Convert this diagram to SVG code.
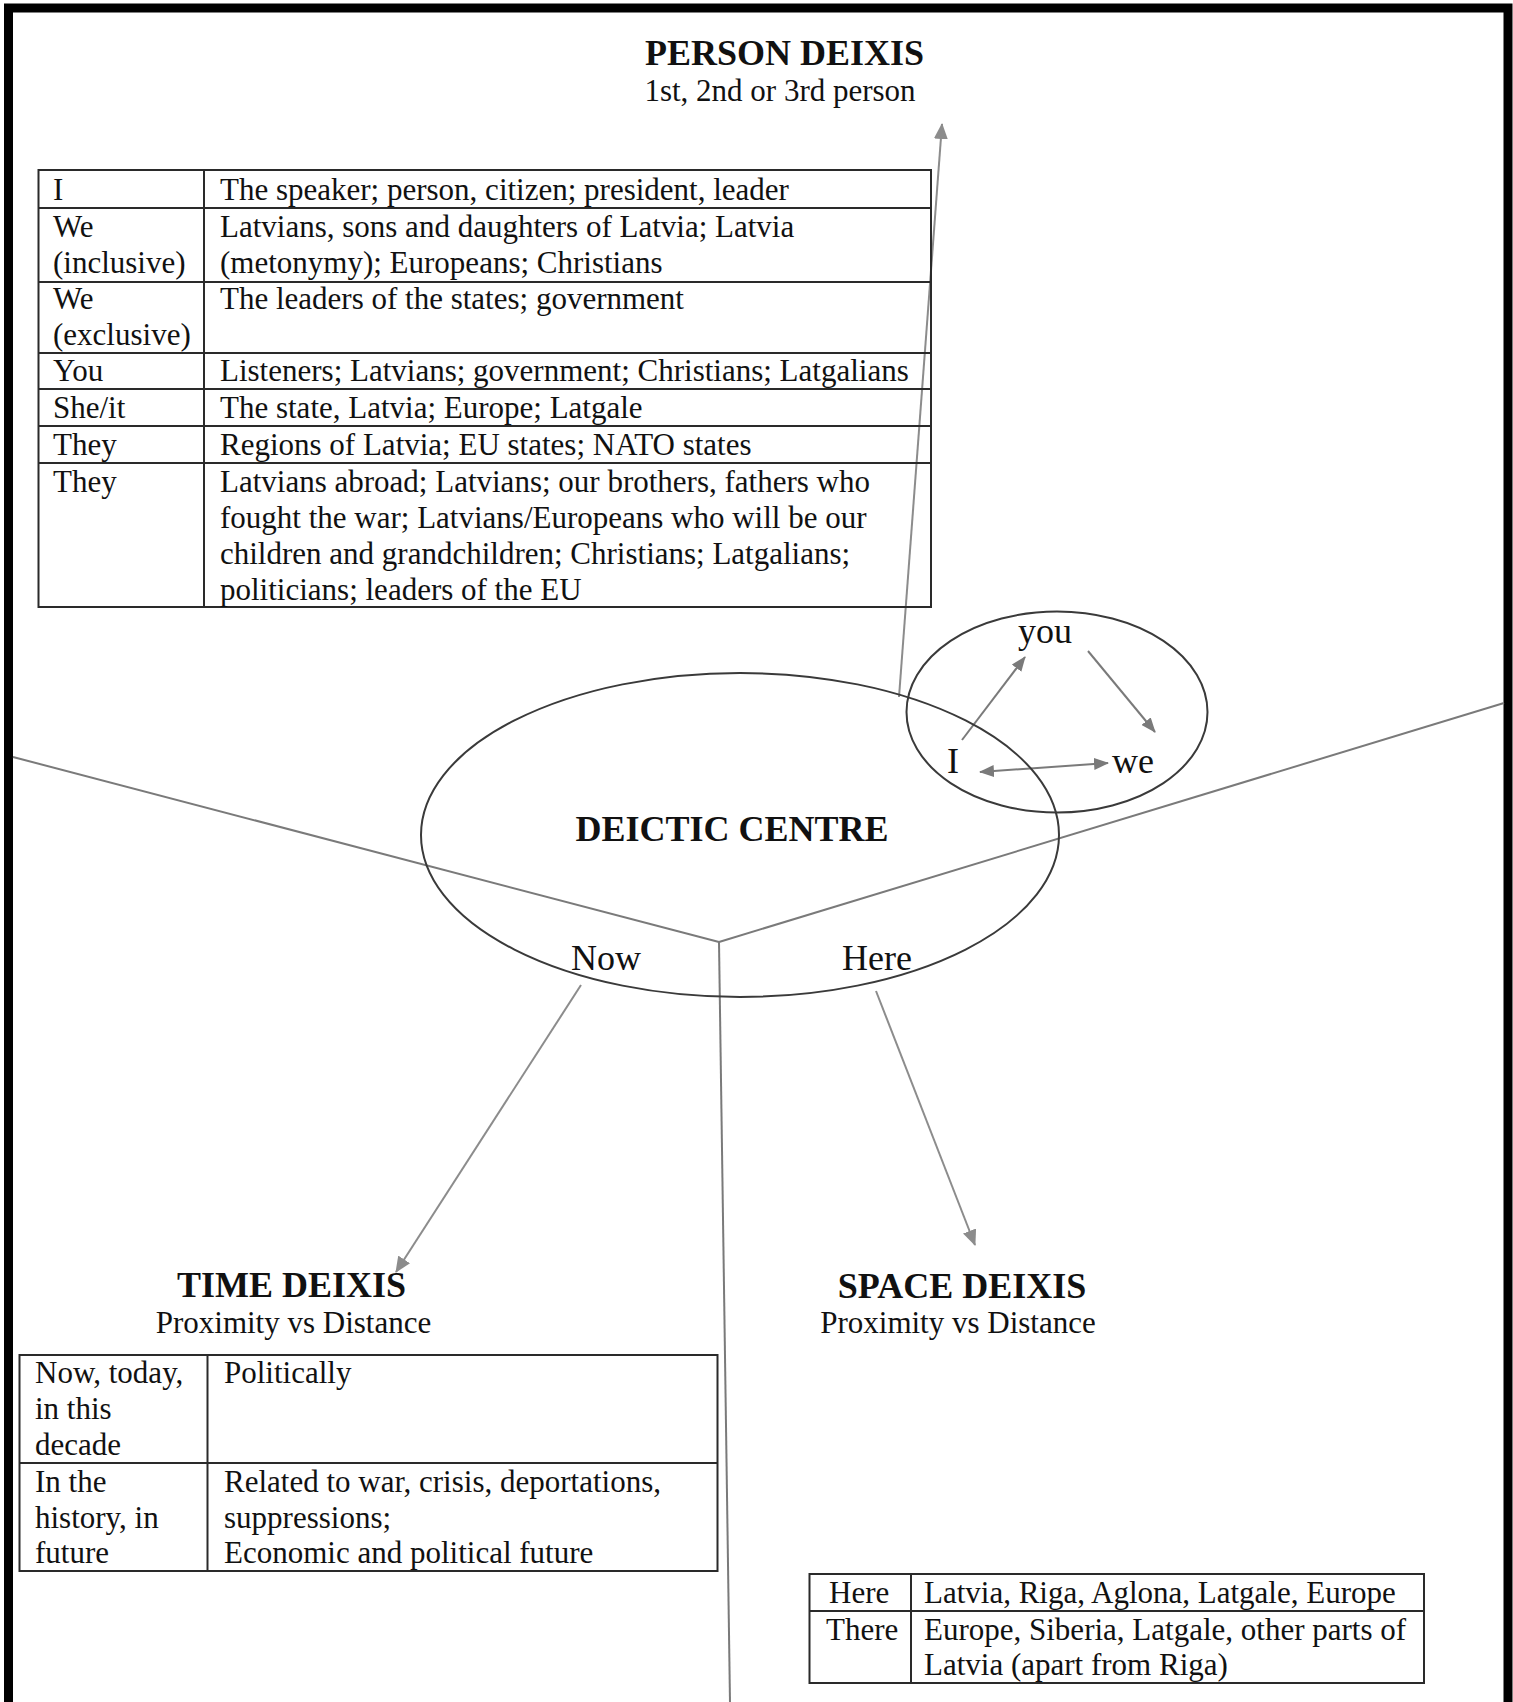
<svg xmlns="http://www.w3.org/2000/svg" width="1513" height="1702" viewBox="0 0 1513 1702">
<defs>
<style>
text{font-family:"Liberation Serif","Times New Roman",serif;fill:#111;}
.t{font-size:31px;}
.b{font-size:36px;font-weight:bold;}
.m{font-size:36px;}
.tbl{fill:none;stroke:#2a2a2a;stroke-width:2;}
.div{fill:none;stroke:#7a7a7a;stroke-width:2;}
.arr{fill:none;stroke:#8c8c8c;stroke-width:2;}
.ell{fill:none;stroke:#3a3a3a;stroke-width:2;}
</style>
<marker id="ah" markerUnits="userSpaceOnUse" markerWidth="16" markerHeight="14" refX="15" refY="7" orient="auto-start-reverse">
<path d="M0,0 L16,7 L0,14 z" fill="#8c8c8c"/>
</marker>
<marker id="ahs" markerUnits="userSpaceOnUse" markerWidth="15" markerHeight="12" refX="14" refY="6" orient="auto-start-reverse">
<path d="M0,0 L15,6 L0,12 z" fill="#7a7a7a"/>
</marker>
</defs>
<rect x="0" y="0" width="1513" height="1702" fill="#fff"/>
<path d="M8.5,1702 V8 H1508 V1702" fill="none" stroke="#000" stroke-width="9"/>

<g id="connectors">
<line class="div" x1="13" y1="757" x2="719" y2="942"/>
<line class="div" x1="719" y1="942" x2="1504" y2="703"/>
<line class="div" x1="719" y1="942" x2="730" y2="1702"/>
<line class="arr" x1="899" y1="697" x2="942" y2="124" marker-end="url(#ah)"/>
<line class="arr" x1="581" y1="985" x2="396" y2="1272" marker-end="url(#ah)"/>
<line class="arr" x1="876" y1="991" x2="975" y2="1245" marker-end="url(#ah)"/>
<line class="arr" style="stroke:#7a7a7a" x1="962" y1="740" x2="1025" y2="657" marker-end="url(#ahs)"/>
<line class="arr" style="stroke:#7a7a7a" x1="1088" y1="651" x2="1155" y2="732" marker-end="url(#ahs)"/>
<line class="arr" style="stroke:#7a7a7a" x1="980" y1="772" x2="1108" y2="763" marker-start="url(#ahs)" marker-end="url(#ahs)"/>
</g>

<g id="person-deixis">
<text class="b" x="784.5" y="65" text-anchor="middle">PERSON DEIXIS</text>
<text class="t" x="780" y="101" text-anchor="middle">1st, 2nd or 3rd person</text>
</g>

<g id="person-table">
<rect class="tbl" x="38.5" y="170" width="892.5" height="437"/>
<line class="tbl" x1="204" y1="170" x2="204" y2="607"/>
<line class="tbl" x1="38.5" y1="208" x2="931" y2="208"/>
<line class="tbl" x1="38.5" y1="282" x2="931" y2="282"/>
<line class="tbl" x1="38.5" y1="353" x2="931" y2="353"/>
<line class="tbl" x1="38.5" y1="389" x2="931" y2="389"/>
<line class="tbl" x1="38.5" y1="426" x2="931" y2="426"/>
<line class="tbl" x1="38.5" y1="463" x2="931" y2="463"/>
<text class="t" x="53" y="200">I</text>
<text class="t" x="220" y="200">The speaker; person, citizen; president, leader</text>
<text class="t" x="53" y="237">We</text>
<text class="t" x="53" y="273">(inclusive)</text>
<text class="t" x="220" y="237">Latvians, sons and daughters of Latvia; Latvia</text>
<text class="t" x="220" y="273">(metonymy); Europeans; Christians</text>
<text class="t" x="53" y="309">We</text>
<text class="t" x="53" y="345">(exclusive)</text>
<text class="t" x="220" y="309">The leaders of the states; government</text>
<text class="t" x="53" y="381">You</text>
<text class="t" x="220" y="381">Listeners; Latvians; government; Christians; Latgalians</text>
<text class="t" x="53" y="418">She/it</text>
<text class="t" x="220" y="418">The state, Latvia; Europe; Latgale</text>
<text class="t" x="53" y="455">They</text>
<text class="t" x="220" y="455">Regions of Latvia; EU states; NATO states</text>
<text class="t" x="53" y="492">They</text>
<text class="t" x="220" y="492">Latvians abroad; Latvians; our brothers, fathers who</text>
<text class="t" x="220" y="528">fought the war; Latvians/Europeans who will be our</text>
<text class="t" x="220" y="564">children and grandchildren; Christians; Latgalians;</text>
<text class="t" x="220" y="600">politicians; leaders of the EU</text>
</g>

<g id="deictic-centre">
<ellipse class="ell" cx="740" cy="835" rx="319" ry="162"/>
<text class="b" x="732" y="841" text-anchor="middle">DEICTIC CENTRE</text>
<text class="m" x="571" y="970">Now</text>
<text class="m" x="842" y="970">Here</text>
</g>

<g id="person-circle">
<ellipse class="ell" cx="1057" cy="712" rx="150.5" ry="100.5"/>
<text class="m" x="1018" y="643">you</text>
<text class="m" x="947" y="773">I</text>
<text class="m" x="1112" y="773">we</text>
</g>

<g id="time-deixis">
<text class="b" x="291.5" y="1297" text-anchor="middle">TIME DEIXIS</text>
<text class="t" x="293.5" y="1333" text-anchor="middle">Proximity vs Distance</text>
</g>

<g id="time-table">
<rect class="tbl" x="19.5" y="1355" width="698" height="216"/>
<line class="tbl" x1="207.5" y1="1355" x2="207.5" y2="1571"/>
<line class="tbl" x1="19.5" y1="1463" x2="717.5" y2="1463"/>
<text class="t" x="35" y="1383">Now, today,</text>
<text class="t" x="35" y="1419">in this</text>
<text class="t" x="35" y="1455">decade</text>
<text class="t" x="224" y="1383">Politically</text>
<text class="t" x="35" y="1492">In the</text>
<text class="t" x="35" y="1528">history, in</text>
<text class="t" x="35" y="1563">future</text>
<text class="t" x="224" y="1492">Related to war, crisis, deportations,</text>
<text class="t" x="224" y="1528">suppressions;</text>
<text class="t" x="224" y="1563">Economic and political future</text>
</g>

<g id="space-deixis">
<text class="b" x="962" y="1298" text-anchor="middle">SPACE DEIXIS</text>
<text class="t" x="958" y="1333" text-anchor="middle">Proximity vs Distance</text>
</g>

<g id="space-table">
<rect class="tbl" x="809.5" y="1574" width="614.5" height="109"/>
<line class="tbl" x1="911" y1="1574" x2="911" y2="1683"/>
<line class="tbl" x1="809.5" y1="1611" x2="1424" y2="1611"/>
<text class="t" x="829" y="1603">Here</text>
<text class="t" x="924" y="1603">Latvia, Riga, Aglona, Latgale, Europe</text>
<text class="t" x="826" y="1640">There</text>
<text class="t" x="924" y="1640">Europe, Siberia, Latgale, other parts of</text>
<text class="t" x="924" y="1675">Latvia (apart from Riga)</text>
</g>
</svg>
